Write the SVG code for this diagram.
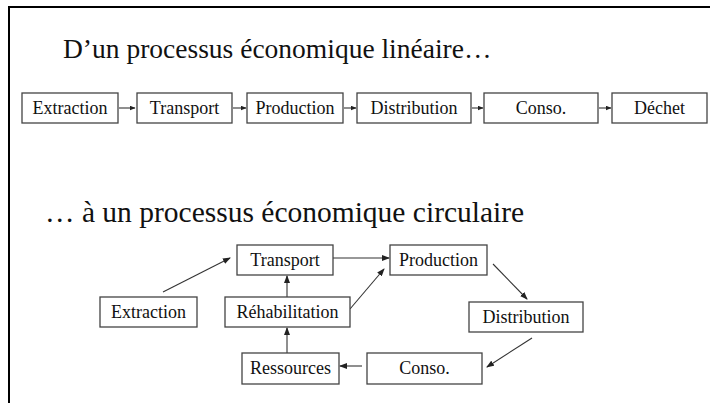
<svg xmlns="http://www.w3.org/2000/svg" width="710" height="403" viewBox="0 0 710 403">
<defs>
<marker id="ah" markerUnits="userSpaceOnUse" markerWidth="8" markerHeight="6" refX="7" refY="3" orient="auto">
<path d="M0,0 L8,3 L0,6 Z" fill="#222"/>
</marker>
<marker id="ahs" markerUnits="userSpaceOnUse" markerWidth="6" markerHeight="5" refX="5.5" refY="2.5" orient="auto">
<path d="M0,0 L6,2.5 L0,5 Z" fill="#222"/>
</marker>
<style>
.box{fill:#fff;stroke:#444;stroke-width:1.3}
.lbl{font-family:'Liberation Serif','Times New Roman',serif;font-size:18px;fill:#111;text-anchor:middle}
.title{font-family:'Liberation Serif','Times New Roman',serif;fill:#111}
.con{stroke:#333;stroke-width:1.1;fill:none;marker-end:url(#ah)}
.cons{stroke:#333;stroke-width:1.1;fill:none;marker-end:url(#ahs)}
</style>
</defs>
<rect width="710" height="403" fill="#fff"/>
<path d="M9,403 V7 H710" fill="none" stroke="#000" stroke-width="2"/>
<text class="title" x="63" y="58" font-size="27.5">D’un processus économique linéaire…</text>
<text class="title" x="45" y="222" font-size="29.5">… à un processus économique circulaire</text>

<g id="connectors">
<line class="cons" x1="119" y1="108" x2="135" y2="108"/>
<line class="cons" x1="233" y1="108" x2="246" y2="108"/>
<line class="cons" x1="344" y1="108" x2="356" y2="108"/>
<line class="cons" x1="472" y1="108" x2="483" y2="108"/>
<line class="cons" x1="599" y1="108" x2="611" y2="108"/>
<line class="con" x1="163" y1="292" x2="230" y2="258"/>
<line class="con" x1="287" y1="297" x2="287" y2="276"/>
<line class="con" x1="287" y1="353" x2="287" y2="328"/>
<line class="con" x1="333" y1="258" x2="389" y2="258"/>
<line class="con" x1="350" y1="309" x2="384" y2="269"/>
<line class="con" x1="493" y1="264" x2="527" y2="299"/>
<line class="con" x1="532" y1="338" x2="487" y2="367"/>
<line class="con" x1="362" y1="366" x2="340" y2="366"/>
</g>

<g id="l-extraction"><rect class="box" x="22" y="93" width="96" height="30"/><text class="lbl" x="70" y="114">Extraction</text></g>
<g id="l-transport"><rect class="box" x="137" y="93" width="95" height="30"/><text class="lbl" x="184.5" y="114">Transport</text></g>
<g id="l-production"><rect class="box" x="247" y="93" width="96" height="30"/><text class="lbl" x="295" y="114">Production</text></g>
<g id="l-distribution"><rect class="box" x="357" y="93" width="114" height="30"/><text class="lbl" x="414" y="114">Distribution</text></g>
<g id="l-conso"><rect class="box" x="484" y="93" width="114" height="30"/><text class="lbl" x="541" y="114">Conso.</text></g>
<g id="l-dechet"><rect class="box" x="612" y="93" width="95" height="30"/><text class="lbl" x="659.5" y="114">Déchet</text></g>

<g id="c-transport"><rect class="box" x="237" y="245" width="96" height="30"/><text class="lbl" x="285" y="266">Transport</text></g>
<g id="c-production"><rect class="box" x="390" y="245" width="97" height="30"/><text class="lbl" x="438.5" y="266">Production</text></g>
<g id="c-extraction"><rect class="box" x="100" y="297" width="97" height="30"/><text class="lbl" x="148.5" y="318">Extraction</text></g>
<g id="c-rehabilitation"><rect class="box" x="225" y="297" width="125" height="30"/><text class="lbl" x="287.5" y="318">Réhabilitation</text></g>
<g id="c-distribution"><rect class="box" x="469" y="302" width="114" height="30"/><text class="lbl" x="526" y="323">Distribution</text></g>
<g id="c-ressources"><rect class="box" x="242" y="353" width="97" height="31"/><text class="lbl" x="290.5" y="374">Ressources</text></g>
<g id="c-conso"><rect class="box" x="367" y="353" width="115" height="31"/><text class="lbl" x="424.5" y="374">Conso.</text></g>
</svg>
